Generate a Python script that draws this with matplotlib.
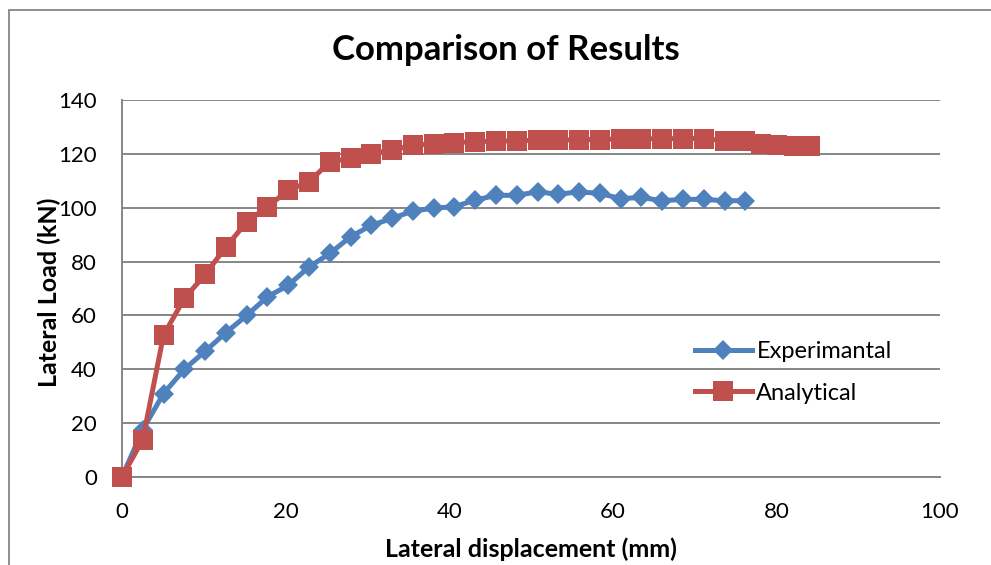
import matplotlib
matplotlib.use("Agg")
import matplotlib.pyplot as plt
from matplotlib.patches import Rectangle

plt.rcParams['font.family'] = ['Lato', 'DejaVu Sans']

# Lateral displacement (mm) and lateral load (kN)
exp_disp = [0.00, 2.54, 5.08, 7.62, 10.16, 12.70, 15.24, 17.78, 20.32, 22.86,
            25.40, 27.94, 30.48, 33.02, 35.56, 38.10, 40.64, 43.18, 45.72, 48.26,
            50.80, 53.34, 55.88, 58.42, 60.96, 63.50, 66.04, 68.58, 71.12, 73.66,
            76.20]
exp_load = [0.0, 17.6, 31.0, 40.0, 46.7, 53.6, 60.0, 66.9, 71.2, 78.0,
            83.0, 89.2, 93.5, 96.0, 98.8, 99.8, 100.4, 102.8, 104.6, 104.6,
            105.9, 105.0, 105.9, 105.3, 103.4, 103.8, 102.6, 103.1, 103.1, 102.6,
            102.6]

ana_disp = [0.00, 2.54, 5.08, 7.62, 10.16, 12.70, 15.24, 17.78, 20.32, 22.86,
            25.40, 27.94, 30.48, 33.02, 35.56, 38.10, 40.64, 43.18, 45.72, 48.26,
            50.80, 53.34, 55.88, 58.42, 60.96, 63.50, 66.04, 68.58, 71.12, 73.66,
            76.20, 78.10, 80.10, 82.10, 84.10]
ana_load = [0.0, 13.9, 52.7, 66.3, 75.2, 85.4, 94.7, 100.3, 106.5, 109.6,
            117.0, 118.3, 120.1, 121.4, 123.2, 123.8, 124.2, 124.5, 124.8, 124.8,
            125.1, 125.1, 125.3, 125.3, 125.6, 125.6, 125.6, 125.7, 125.7, 124.8,
            124.6, 123.5, 123.2, 122.9, 122.9]

series_names = ["Experimantal", "Analytical"]
x_ticks = [0, 20, 40, 60, 80, 100]
y_ticks = [0, 20, 40, 60, 80, 100, 120, 140]

blue = "#4F81BD"
red = "#C0504D"
grid = "#868686"

W, H = 991, 565
fig = plt.figure(figsize=(W / 100, H / 100), dpi=100)
fig.patch.set_facecolor("white")

# chart frame
fig.patches.append(Rectangle((9 / W, -0.05), 1.0, 1 - 10 / H + 0.05,
                             transform=fig.transFigure, fill=False,
                             edgecolor=grid, linewidth=1.3))

ax = fig.add_axes([122 / W, 1 - 477 / H, (940 - 122) / W, (477 - 100) / H])

ax.plot(exp_disp, exp_load, color=blue, linewidth=3.6, marker="D",
        markersize=10.0, markeredgewidth=0, label=series_names[0],
        clip_on=False, zorder=3)
ax.plot(ana_disp, ana_load, color=red, linewidth=3.6, marker="s",
        markersize=14.5, markeredgewidth=0, label=series_names[1],
        clip_on=False, zorder=4)

ax.set_xlim(0, 100)
ax.set_ylim(0, 140)
ax.set_xticks(x_ticks)
ax.set_yticks(y_ticks)
ax.tick_params(axis="both", length=0, labelsize=16, colors="black")
ax.tick_params(axis="x", pad=18)
ax.tick_params(axis="y", pad=18)
ax.yaxis.grid(True, color=grid, linewidth=1.4)
ax.set_axisbelow(True)
for side in ("top", "right"):
    ax.spines[side].set_visible(False)
for side in ("left", "bottom"):
    ax.spines[side].set_color(grid)
    ax.spines[side].set_linewidth(1.4)

fig.text(506 / W, 1 - 60 / H, "Comparison of Results", fontsize=25,
         fontweight="bold", ha="center", va="baseline")
fig.text(531 / W, 1 - 557 / H, "Lateral displacement (mm)", fontsize=18,
         fontweight="bold", ha="center", va="baseline")
fig.text(49 / W, 1 - 292 / H, "Lateral Load (kN)", fontsize=18,
         fontweight="bold", ha="center", va="center", rotation=90)

leg = ax.legend(loc="center left", bbox_to_anchor=((695 - 122) / 818, 1 - (372.5 - 100) / 377),
                frameon=False, fontsize=17, handlelength=2.4, handletextpad=0.2,
                labelspacing=0.85, borderaxespad=0, borderpad=0)

fig.savefig("out.png", dpi=100)
